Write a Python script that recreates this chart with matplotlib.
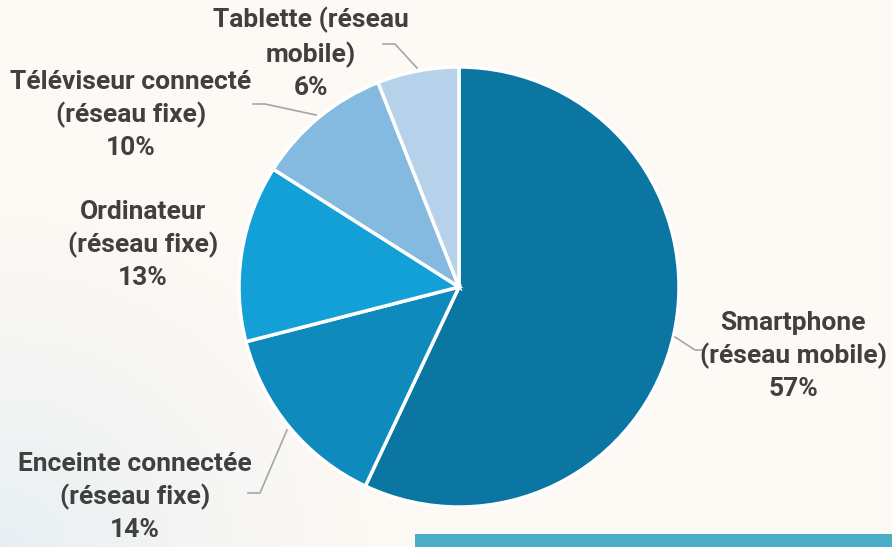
import numpy as np
import matplotlib
matplotlib.use("Agg")
import matplotlib.pyplot as plt
from matplotlib.patches import Rectangle

# ---- data ----
categories = ["Smartphone\n(réseau mobile)", "Enceinte connectée\n(réseau fixe)",
              "Ordinateur\n(réseau fixe)", "Téléviseur connecté\n(réseau fixe)",
              "Tablette (réseau\nmobile)"]
values = [57, 14, 13, 10, 6]
colors = ["#0B76A1", "#0E8ABD", "#12A0D6", "#84B9E0", "#B5D2EA"]

W, H = 892, 547
BG = "#FDF9F5"
fig = plt.figure(figsize=(W / 100, H / 100), dpi=100)
fig.patch.set_facecolor(BG)
ax = fig.add_axes([0, 0, 1, 1])
ax.set_xlim(0, W)
ax.set_ylim(0, H)
ax.axis("off")

def Y(yp):
    return H - yp

# soft blue wash bottom-left
yy, xx = np.mgrid[0:H, 0:W]
d = np.sqrt(((xx - 0) / 420.0) ** 2 + ((yy - H) / 380.0) ** 2)
alpha = np.clip(1 - d, 0, 1) ** 1.5 * 0.45
img = np.zeros((H, W, 4))
img[..., 0] = 0.80
img[..., 1] = 0.89
img[..., 2] = 0.94
img[..., 3] = alpha
ax.imshow(img, extent=[0, W, 0, H], origin="upper", zorder=0, aspect="auto")

cx, cy, R = 459, Y(287), 220
wedges, _ = ax.pie(values, colors=colors, startangle=90, counterclock=False,
                   center=(cx, cy), radius=R, frame=True,
                   wedgeprops=dict(edgecolor="white", linewidth=2.5))
ax.set_xlim(0, W)
ax.set_ylim(0, H)
ax.set_aspect("auto")
ax.axis("off")

font = dict(family=["Roboto", "DejaVu Sans"], weight="bold", size=19,
            color="#404040", ha="center", va="center", linespacing=1.42)

labels_pos = [(793, 356), (135, 497), (143, 245), (131, 115), (311, 53)]
for cat, v, (x, y) in zip(categories, values, labels_pos):
    ax.text(x, Y(y), f"{cat}\n{v}%", zorder=5, **font)

lc = dict(color="#A6A6A6", lw=1.2, zorder=4)
leaders = [
    [(675, 337), (695, 350), (702, 350)],
    [(287, 430), (260, 493), (248, 493)],
    [(316, 115), (265, 104), (253, 104)],
    [(417, 68), (395, 44), (383, 44)],
]
for pts in leaders:
    xs = [p[0] for p in pts]
    ys = [Y(p[1]) for p in pts]
    ax.plot(xs, ys, **lc)

# partial box at bottom right
ax.add_patch(Rectangle((415, 0), W - 415, Y(534), facecolor="#4BACC6",
                       edgecolor="none", zorder=3))

fig.savefig("out.png", dpi=100, facecolor=BG)
